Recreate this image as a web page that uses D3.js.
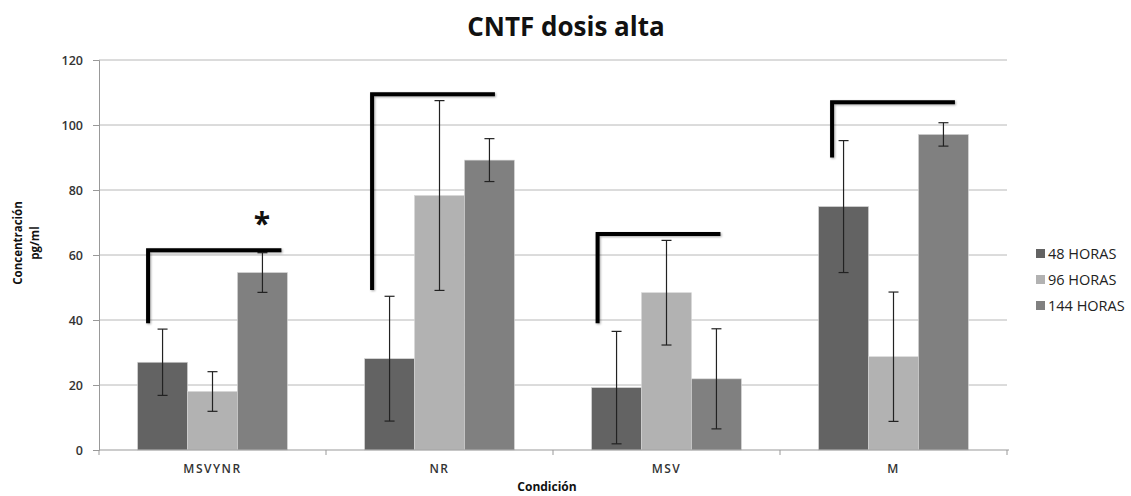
<!DOCTYPE html>
<html>
<head>
<meta charset="utf-8">
<script src="https://cdn.jsdelivr.net/npm/d3@7"></script>
<style>
  html, body { margin: 0; padding: 0; background: #fff; }
  svg { display: block; font-family: "Open Sans", "DejaVu Sans", sans-serif; }
</style>
</head>
<body>
<svg id="chart" width="1131" height="496"></svg>
<script>
// Condition categories and time-point series
const categories = ["MSVYNR", "NR", "MSV", "M"];
const seriesNames = ["48 HORAS", "96 HORAS", "144 HORAS"];
const seriesColors = ["#636363", "#b2b2b2", "#808080"];

// Mean CNTF concentration (pg/ml) per series, in category order
const values48 = [27.0, 28.1, 19.2, 74.9];
const values96 = [18.0, 78.3, 48.4, 28.7];
const values144 = [54.6, 89.2, 21.9, 97.1];

// Error bar half-widths (pg/ml)
const err48 = [10.2, 19.2, 17.3, 20.3];
const err96 = [6.1, 29.2, 16.1, 19.9];
const err144 = [6.1, 6.6, 15.4, 3.6];

// Comparison brackets: upper and lower value of each bracket, per category
const bracketTop = [61.5, 109.5, 66.5, 107];
const bracketBottom = [39, 49.2, 39, 90];
// Significance marks per category
const significance = ["*", "", "", ""];

const yTicks = [0, 20, 40, 60, 80, 100, 120];

const seriesValues = [values48, values96, values144];
const seriesErrors = [err48, err96, err144];

const margin = { left: 99, right: 124, top: 60, bottom: 46 };
const W = 1131, H = 496;
const svg = d3.select("#chart");

const x = d3.scaleBand().domain(categories).range([margin.left, W - margin.right]).paddingInner(0.34).paddingOuter(0.17);
const xs = d3.scaleBand().domain(seriesNames).range([0, x.bandwidth()]);
const y = d3.scaleLinear().domain([0, 120]).range([H - margin.bottom, margin.top]);

// Title
svg.append("text").attr("x", 566).attr("y", 36).attr("text-anchor", "middle")
  .attr("font-size", 26).attr("font-weight", 700).attr("fill", "#111").text("CNTF dosis alta");

// Gridlines
svg.append("g").selectAll("line").data(yTicks.slice(1)).join("line")
  .attr("x1", margin.left).attr("x2", W - margin.right)
  .attr("y1", d => y(d)).attr("y2", d => y(d))
  .attr("stroke", "#b8b8b8").attr("stroke-width", 1);

// Y axis
const yAxis = svg.append("g").attr("transform", `translate(${margin.left},0)`)
  .call(d3.axisLeft(y).tickValues(yTicks).tickSize(6).tickPadding(10));
yAxis.select(".domain").attr("stroke", "#999");
yAxis.selectAll(".tick line").attr("stroke", "#999");
yAxis.selectAll(".tick text").attr("font-size", 12.5).attr("font-weight", 600).attr("fill", "#333")
  .attr("font-family", "\"Open Sans\", sans-serif");

// Y axis title
const yt = svg.append("text").attr("transform", "translate(22,243) rotate(-90)")
  .attr("text-anchor", "middle").attr("font-size", 11.5).attr("font-weight", 700).attr("fill", "#111");
yt.append("tspan").attr("x", 0).attr("dy", 0).text("Concentración");
yt.append("tspan").attr("x", 0).attr("dy", 17).text("pg/ml");

// Bars
const groups = svg.append("g").selectAll("g").data(categories).join("g")
  .attr("transform", d => `translate(${x(d)},0)`);

seriesNames.forEach((s, si) => {
  groups.append("rect")
    .attr("x", xs(s)).attr("width", xs.bandwidth())
    .attr("y", (d, i) => y(seriesValues[si][i]))
    .attr("height", (d, i) => y(0) - y(seriesValues[si][i]))
    .attr("fill", seriesColors[si])
    .attr("stroke", "#d6d6d6").attr("stroke-width", 0.6);
});

// Error bars
seriesNames.forEach((s, si) => {
  const cx = xs(s) + xs.bandwidth() / 2;
  groups.each(function(d, i) {
    const g = d3.select(this);
    const v = seriesValues[si][i], e = seriesErrors[si][i];
    const top = y(v + e), bot = y(Math.max(0, v - e));
    g.append("line").attr("x1", cx).attr("x2", cx).attr("y1", top).attr("y2", bot)
      .attr("stroke", "#222").attr("stroke-width", 1.2);
    [top, bot].forEach(yy => g.append("line").attr("x1", cx - 5).attr("x2", cx + 5)
      .attr("y1", yy).attr("y2", yy).attr("stroke", "#222").attr("stroke-width", 1.2));
  });
});

// X axis
const xAxisY = y(0);
svg.append("line").attr("x1", margin.left).attr("x2", W - margin.right + 2)
  .attr("y1", xAxisY).attr("y2", xAxisY).attr("stroke", "#999");
const boundaries = d3.range(categories.length + 1).map(i => margin.left + i * (W - margin.right - margin.left) / categories.length);
svg.append("g").selectAll("line").data(boundaries).join("line")
  .attr("x1", d => d).attr("x2", d => d).attr("y1", xAxisY).attr("y2", xAxisY + 5)
  .attr("stroke", "#999");
svg.append("g").selectAll("text").data(categories).join("text")
  .attr("x", d => x(d) + x.bandwidth() / 2).attr("y", 473)
  .attr("text-anchor", "middle").attr("font-size", 12).attr("font-weight", 600)
  .attr("letter-spacing", 1.5).attr("fill", "#333").text(d => d);

svg.append("text").attr("x", 547).attr("y", 491).attr("text-anchor", "middle")
  .attr("font-size", 12).attr("font-weight", 700).attr("fill", "#111").text("Condición");

// Comparison brackets (left and right ends as fractions of each category band)
const bracketLeft = [0.07, 0.05, 0.04, 0.09];
const bracketRight = [0.96, 0.87, 0.86, 0.91];
const defs = svg.append("defs");
const f = defs.append("filter").attr("id", "soft").attr("x", "-10%").attr("y", "-10%").attr("width", "120%").attr("height", "120%");
f.append("feDropShadow").attr("dx", 1).attr("dy", 1).attr("stdDeviation", 1).attr("flood-color", "#000").attr("flood-opacity", 0.35);
svg.append("g").selectAll("path").data(categories).join("path")
  .attr("d", (d, i) => {
    const x0 = x(d) + x.bandwidth() * bracketLeft[i];
    const x1 = x(d) + x.bandwidth() * bracketRight[i];
    return `M${x0},${y(bracketBottom[i])}V${y(bracketTop[i])}H${x1}`;
  })
  .attr("fill", "none").attr("stroke", "#000").attr("stroke-width", 4)
  .attr("stroke-linejoin", "miter").attr("filter", "url(#soft)");

svg.append("g").selectAll("text").data(categories).join("text")
  .attr("x", d => x(d) + x.bandwidth() * 0.83)
  .attr("y", (d, i) => y(bracketTop[i]) - 16)
  .attr("text-anchor", "middle").attr("font-size", 30).attr("font-weight", 700).attr("fill", "#111")
  .text((d, i) => significance[i]);

// Legend
const legend = svg.append("g").selectAll("g").data(seriesNames).join("g")
  .attr("transform", (d, i) => `translate(1036,${254 + i * 26})`);
legend.append("rect").attr("x", 0).attr("y", -5).attr("width", 9).attr("height", 9)
  .attr("fill", (d, i) => seriesColors[i]);
legend.append("text").attr("x", 12).attr("y", 5).attr("font-size", 14.5).attr("fill", "#222")
  .attr("font-weight", 500).text(d => d);
</script>
</body>
</html>
